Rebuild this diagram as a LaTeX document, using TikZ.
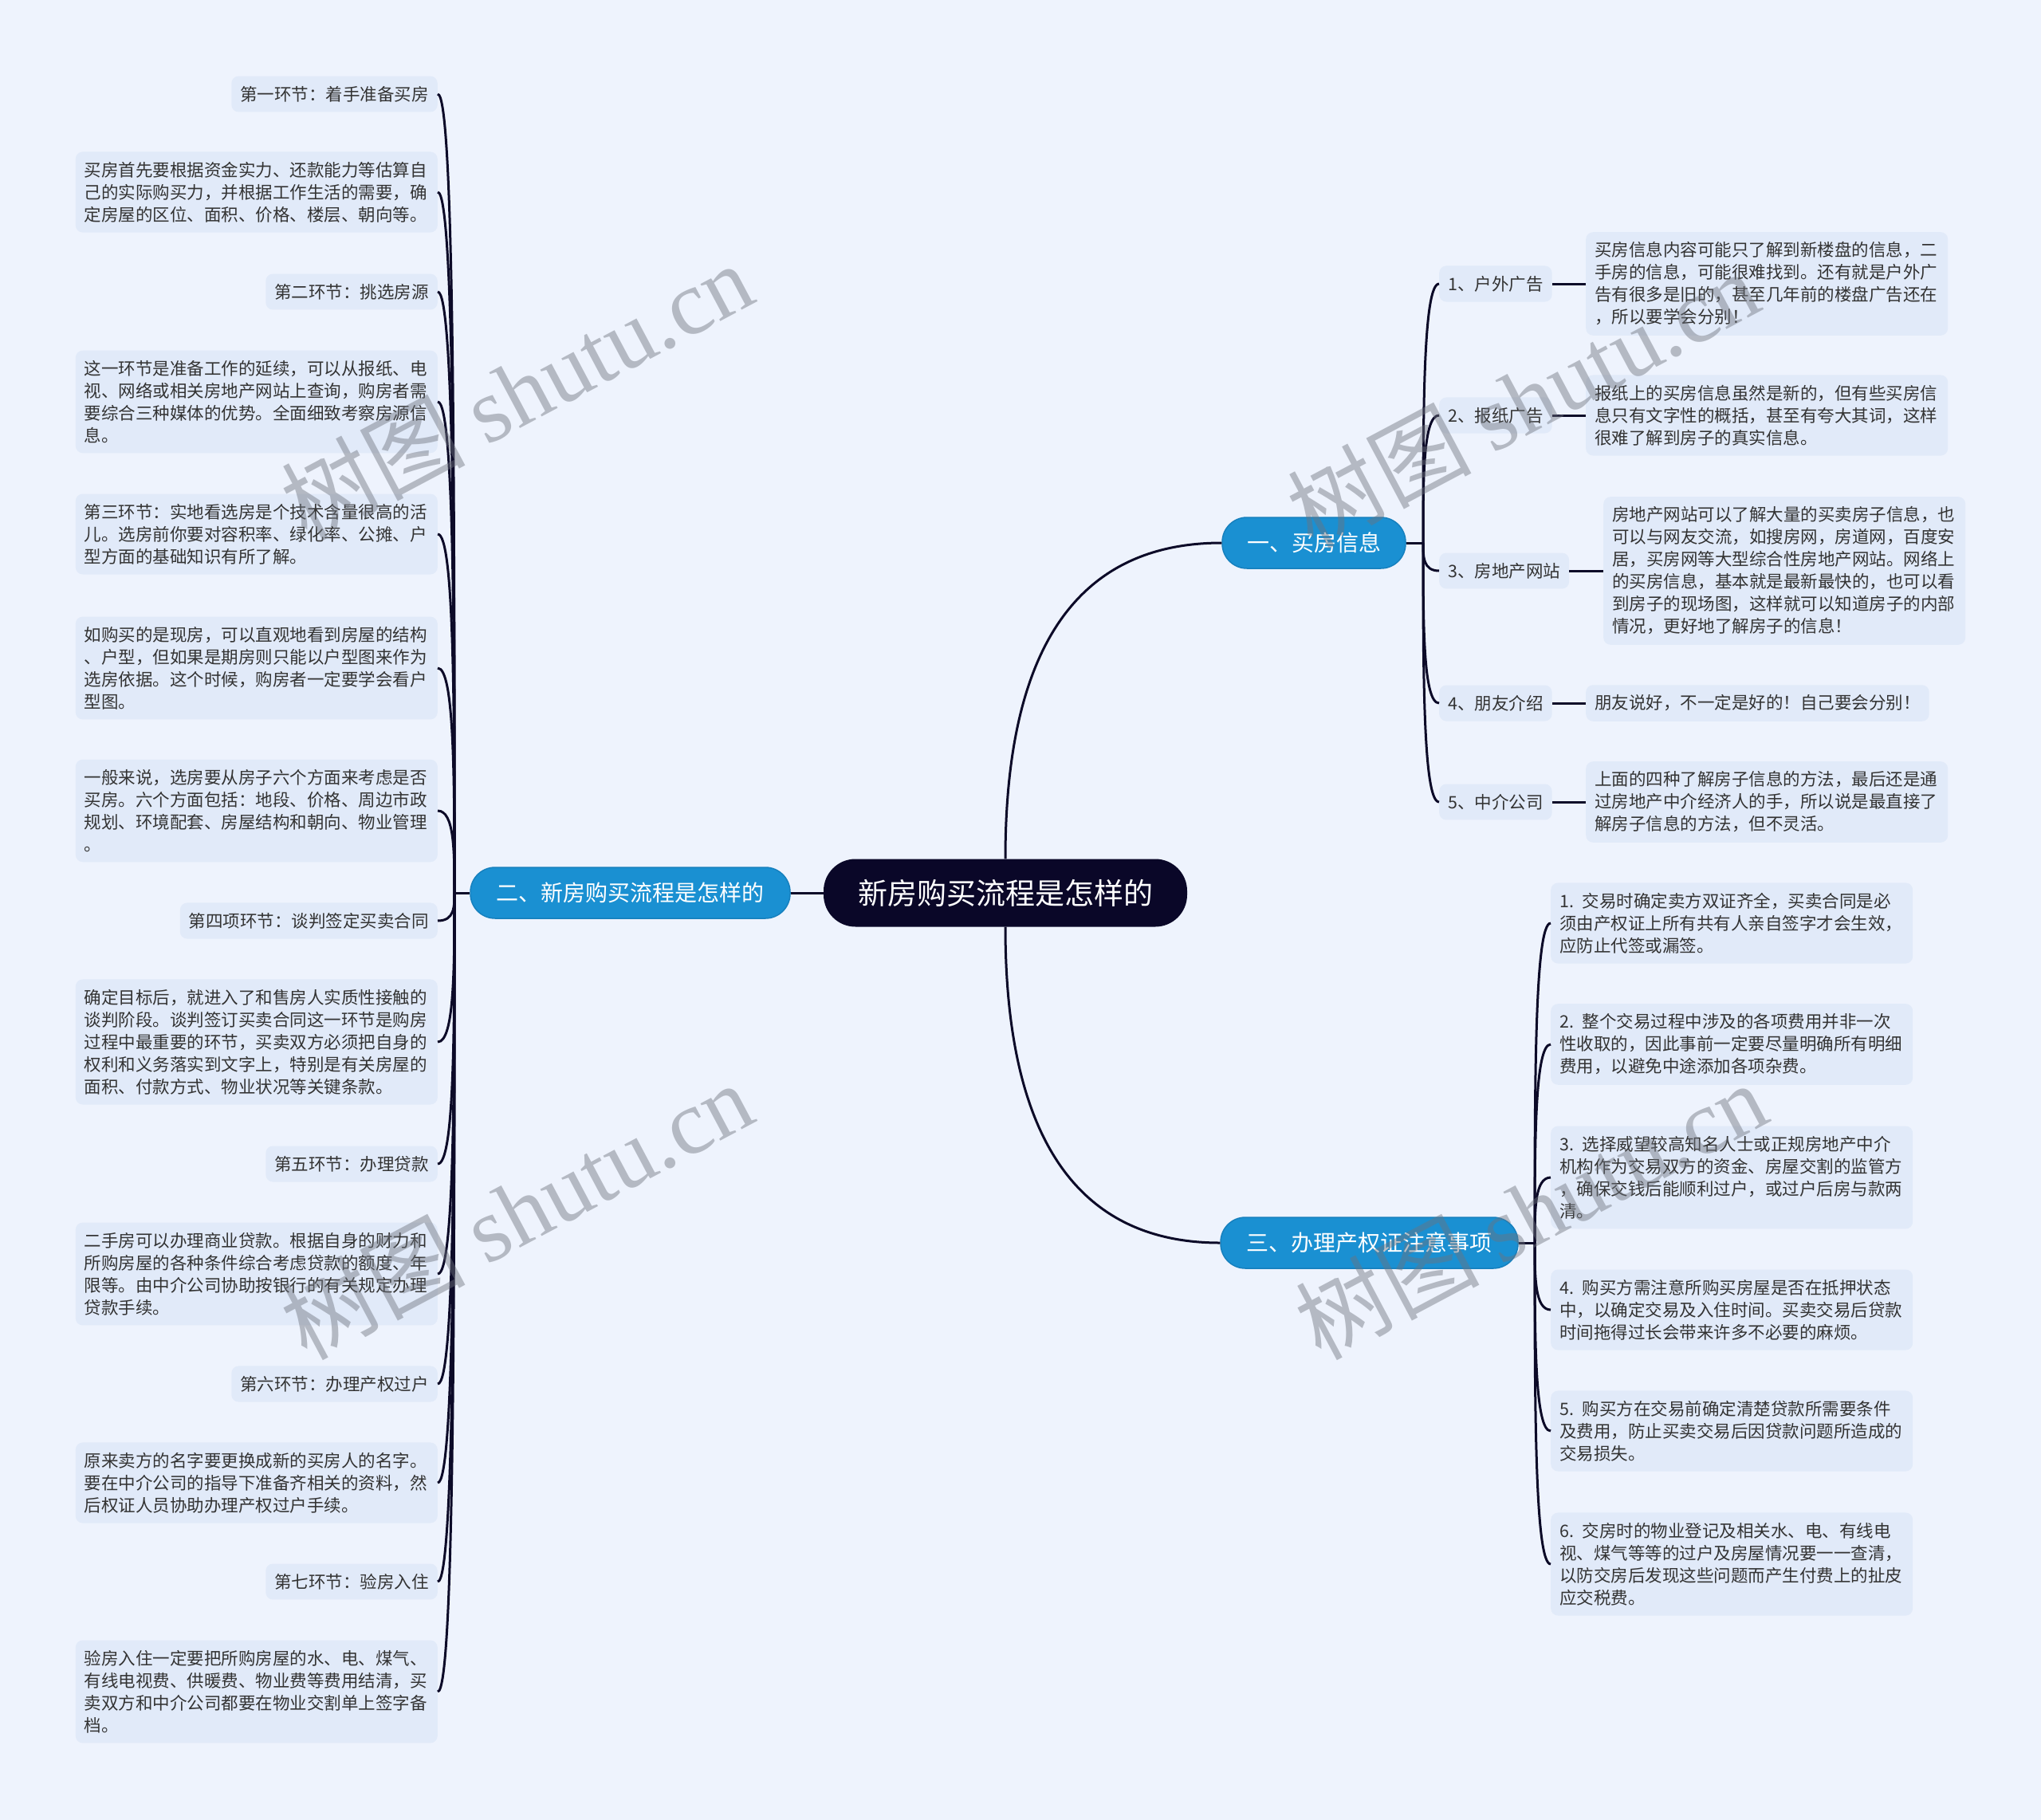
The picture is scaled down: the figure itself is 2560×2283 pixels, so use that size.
\documentclass[tikz,border=0pt]{standalone}
\usepackage{fontspec}
\newfontfamily\cjk{Noto Sans CJK SC}
\newfontfamily\wmserif{Liberation Serif}
\definecolor{bgc}{RGB}{238,243,253}
\definecolor{boxc}{RGB}{225,234,249}
\definecolor{linec}{RGB}{12,10,40}
\definecolor{rootc}{RGB}{10,7,40}
\definecolor{bluec}{RGB}{26,144,210}
\definecolor{blueb}{RGB}{22,128,190}
\definecolor{txtc}{RGB}{51,51,51}
\definecolor{wmc}{RGB}{110,115,125}
\tikzset{
 conn/.style={draw=linec, line width=3pt},
 leaf/.style={fill=boxc, rounded corners=9pt, inner xsep=11pt, inner ysep=12.5pt, text=txtc, font=\cjk\fontsize{21.5}{28}\selectfont, align=left},
 para/.style={leaf, text width=432pt},
 rootbox/.style={fill=rootc, text=white, rounded corners=40pt, minimum width=456pt, minimum height=85pt, font=\cjk\fontsize{37}{44}\selectfont},
 branch/.style={fill=bluec, draw=blueb, line width=1.5pt, text=white, rounded corners=31pt, minimum height=64pt, font=\cjk\fontsize{28}{34}\selectfont},
 wm/.style={rotate=28, text=wmc, opacity=0.45, font=\fontsize{115}{120}\selectfont}
}
\begin{document}
\begin{tikzpicture}[x=1pt,y=-1pt]
\useasboundingbox (0,0) rectangle (2560,2283);
\fill[bgc] (0,0) rectangle (2560,2283);

% main nodes
\node[rootbox] (root) at (1261,1120) {新房购买流程是怎样的};
\node[branch, minimum width=230pt] (b1) at (1648,681) {一、买房信息};
\node[branch, minimum width=401pt] (b2) at (790.5,1120) {二、新房购买流程是怎样的};
\node[branch, minimum width=373pt] (b3) at (1717.5,1559) {三、办理产权证注意事项};

% left leaves
\node[leaf, anchor=east] (t1) at (549,118) {第一环节：着手准备买房};
\node[para, anchor=east] (p1) at (549,241) {买房首先要根据资金实力、还款能力等估算自\\己的实际购买力，并根据工作生活的需要，确\\定房屋的区位、面积、价格、楼层、朝向等。};
\node[leaf, anchor=east] (t2) at (549,366) {第二环节：挑选房源};
\node[para, anchor=east] (p2) at (549,504) {这一环节是准备工作的延续，可以从报纸、电\\视、网络或相关房地产网站上查询，购房者需\\要综合三种媒体的优势。全面细致考察房源信\\息。};
\node[para, anchor=east] (p3) at (549,670) {第三环节：实地看选房是个技术含量很高的活\\儿。选房前你要对容积率、绿化率、公摊、户\\型方面的基础知识有所了解。};
\node[para, anchor=east] (p4) at (549,838) {如购买的是现房，可以直观地看到房屋的结构\\、户型，但如果是期房则只能以户型图来作为\\选房依据。这个时候，购房者一定要学会看户\\型图。};
\node[para, anchor=east] (p5) at (549,1017) {一般来说，选房要从房子六个方面来考虑是否\\买房。六个方面包括：地段、价格、周边市政\\规划、环境配套、房屋结构和朝向、物业管理\\。};
\node[leaf, anchor=east] (t4) at (549,1155) {第四项环节：谈判签定买卖合同};
\node[para, anchor=east] (p6) at (549,1307) {确定目标后，就进入了和售房人实质性接触的\\谈判阶段。谈判签订买卖合同这一环节是购房\\过程中最重要的环节，买卖双方必须把自身的\\权利和义务落实到文字上，特别是有关房屋的\\面积、付款方式、物业状况等关键条款。};
\node[leaf, anchor=east] (t5) at (549,1460) {第五环节：办理贷款};
\node[para, anchor=east] (p7) at (549,1598) {二手房可以办理商业贷款。根据自身的财力和\\所购房屋的各种条件综合考虑贷款的额度、年\\限等。由中介公司协助按银行的有关规定办理\\贷款手续。};
\node[leaf, anchor=east] (t6) at (549,1736) {第六环节：办理产权过户};
\node[para, anchor=east] (p8) at (549,1860) {原来卖方的名字要更换成新的买房人的名字。\\要在中介公司的指导下准备齐相关的资料，然\\后权证人员协助办理产权过户手续。};
\node[leaf, anchor=east] (t7) at (549,1984) {第七环节：验房入住};
\node[para, anchor=east] (p9) at (549,2122) {验房入住一定要把所购房屋的水、电、煤气、\\有线电视费、供暖费、物业费等费用结清，买\\卖双方和中介公司都要在物业交割单上签字备\\档。};

% right leaves of b1
\node[leaf, anchor=west] (c1) at (1805,356) {1、户外广告};
\node[leaf, anchor=west] (c2) at (1805,521) {2、报纸广告};
\node[leaf, anchor=west] (c3) at (1805,716) {3、房地产网站};
\node[leaf, anchor=west] (c4) at (1805,882) {4、朋友介绍};
\node[leaf, anchor=west] (c5) at (1805,1006) {5、中介公司};
\node[para, anchor=west] (d1) at (1989,356) {买房信息内容可能只了解到新楼盘的信息，二\\手房的信息，可能很难找到。还有就是户外广\\告有很多是旧的，甚至几年前的楼盘广告还在\\，所以要学会分别！};
\node[para, anchor=west] (d2) at (1989,521) {报纸上的买房信息虽然是新的，但有些买房信\\息只有文字性的概括，甚至有夸大其词，这样\\很难了解到房子的真实信息。};
\node[para, anchor=west] (d3) at (2011,716) {房地产网站可以了解大量的买卖房子信息，也\\可以与网友交流，如搜房网，房道网，百度安\\居，买房网等大型综合性房地产网站。网络上\\的买房信息，基本就是最新最快的，也可以看\\到房子的现场图，这样就可以知道房子的内部\\情况，更好地了解房子的信息！};
\node[leaf, anchor=west] (d4) at (1989,882) {朋友说好，不一定是好的！自己要会分别！};
\node[para, anchor=west] (d5) at (1989,1006) {上面的四种了解房子信息的方法，最后还是通\\过房地产中介经济人的手，所以说是最直接了\\解房子信息的方法，但不灵活。};

% right leaves of b3
\node[para, anchor=west] (e1) at (1945,1158) {1. 交易时确定卖方双证齐全，买卖合同是必\\须由产权证上所有共有人亲自签字才会生效，\\应防止代签或漏签。};
\node[para, anchor=west] (e2) at (1945,1310) {2. 整个交易过程中涉及的各项费用并非一次\\性收取的，因此事前一定要尽量明确所有明细\\费用，以避免中途添加各项杂费。};
\node[para, anchor=west] (e3) at (1945,1477) {3. 选择威望较高知名人士或正规房地产中介\\机构作为交易双方的资金、房屋交割的监管方\\，确保交钱后能顺利过户，或过户后房与款两\\清。};
\node[para, anchor=west] (e4) at (1945,1643) {4. 购买方需注意所购买房屋是否在抵押状态\\中，以确定交易及入住时间。买卖交易后贷款\\时间拖得过长会带来许多不必要的麻烦。};
\node[para, anchor=west] (e5) at (1945,1795) {5. 购买方在交易前确定清楚贷款所需要条件\\及费用，防止买卖交易后因贷款问题所造成的\\交易损失。};
\node[para, anchor=west] (e6) at (1945,1962) {6. 交房时的物业登记及相关水、电、有线电\\视、煤气等等的过户及房屋情况要一一查清，\\以防交房后发现这些问题而产生付费上的扯皮\\应交税费。};

% connectors
\draw[conn] (root.north) .. controls (1261,813) and (1351,681) .. (b1.west);
\draw[conn] (root.south) .. controls (1261,1427) and (1351,1559) .. (b3.west);
\draw[conn] (root.west) -- (b2.east);

\coordinate (L) at (570,1120);
\draw[conn] (b2.west) -- (L);
\foreach \n/\y in {t1/118,p1/241,t2/366,p2/504,p3/670,p4/838,p5/1017,t4/1155,p6/1307,t5/1460,p7/1598,t6/1736,p8/1860,t7/1984,p9/2122}
  \draw[conn] (L) .. controls (570,{(1120+\y)/2}) and (570,\y) .. (\n.east);

\coordinate (R1) at (1785,681);
\draw[conn] (b1.east) -- (R1);
\foreach \n/\y in {c1/356,c2/521,c3/716,c4/882,c5/1006}
  \draw[conn] (R1) .. controls (1785,{(681+\y)/2}) and (1785,\y) .. (\n.west);
\foreach \a/\b in {c1/d1,c2/d2,c3/d3,c4/d4,c5/d5}
  \draw[conn] (\a.east) -- (\b.west);

\coordinate (R3) at (1925,1559);
\draw[conn] (b3.east) -- (R3);
\foreach \n/\y in {e1/1158,e2/1310,e3/1477,e4/1643,e5/1795,e6/1962}
  \draw[conn] (R3) .. controls (1925,{(1559+\y)/2}) and (1925,\y) .. (\n.west);

% watermarks
\node[wm] (w1) at (648,490) {\cjk 树图 \wmserif shutu.cn};
\node[wm] (w2) at (648,1518) {\cjk 树图 \wmserif shutu.cn};
\node[wm] (w3) at (1910,500) {\cjk 树图 \wmserif shutu.cn};
\node[wm] (w4) at (1920,1518) {\cjk 树图 \wmserif shutu.cn};
\end{tikzpicture}
\end{document}
